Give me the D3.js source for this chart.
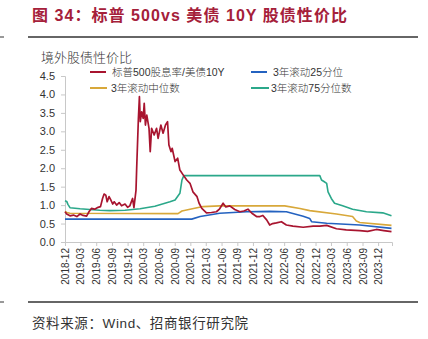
<!DOCTYPE html>
<html><head><meta charset="utf-8">
<script src="https://cdn.jsdelivr.net/npm/d3@7"></script>
<style>
body{margin:0;background:#fff;}
svg{display:block;font-family:"Liberation Sans",Arial,"Noto Sans CJK SC",sans-serif;}
</style></head><body>
<svg id="c" width="428" height="339"></svg>
<script>
// ---- data ----
const redDates = ["2018-12-01","2018-12-11","2018-12-30","2019-01-19","2019-02-08","2019-02-27","2019-03-16","2019-04-06","2019-04-20","2019-05-04","2019-05-23","2019-06-12","2019-06-26","2019-07-08","2019-07-17","2019-07-27","2019-08-04","2019-08-15","2019-08-25","2019-09-05","2019-09-14","2019-09-28","2019-10-13","2019-10-27","2019-11-16","2019-12-01","2019-12-14","2019-12-30","2020-01-07","2020-01-19","2020-01-23","2020-02-02","2020-02-08","2020-02-13","2020-02-21","2020-03-01","2020-03-07","2020-03-14","2020-03-22","2020-04-04","2020-04-11","2020-04-19","2020-05-04","2020-05-18","2020-05-27","2020-06-12","2020-06-25","2020-07-09","2020-07-21","2020-07-29","2020-08-10","2020-08-17","2020-09-03","2020-09-18","2020-10-01","2020-10-20","2020-11-10","2020-11-29","2020-12-16","2021-01-09","2021-01-21","2021-02-06","2021-03-05","2021-04-03","2021-05-02","2021-05-21","2021-06-10","2021-06-26","2021-07-19","2021-08-17","2021-09-16","2021-10-09","2021-11-02","2021-11-25","2021-12-22","2022-01-11","2022-01-28","2022-02-19","2022-03-09","2022-03-26","2022-04-17","2022-05-16","2022-06-14","2022-07-22","2022-09-20","2022-11-17","2022-12-26","2023-02-04","2023-04-02","2023-05-29","2023-08-16","2023-10-01","2023-11-21","2024-01-03","2024-02-17"];
const redValues = [0.82,0.76,0.71,0.73,0.69,0.76,0.72,0.70,0.82,0.91,0.89,0.94,0.96,1.18,1.30,1.27,1.09,1.23,1.14,1.03,1.09,1.00,1.07,0.98,1.03,0.94,0.98,1.18,0.93,1.40,2.00,3.35,3.94,3.26,3.53,3.35,3.76,3.17,3.44,3.08,2.45,3.08,2.90,3.08,2.81,3.17,2.95,3.17,3.26,2.63,2.45,2.54,2.18,2.27,1.95,1.82,1.68,1.59,1.36,1.23,1.05,0.91,0.79,0.80,0.82,0.90,1.05,0.95,0.98,0.88,0.82,0.84,0.89,0.78,0.69,0.69,0.72,0.60,0.46,0.50,0.52,0.55,0.46,0.43,0.40,0.43,0.43,0.45,0.36,0.33,0.31,0.29,0.34,0.31,0.28];

const p25Dates = ["2018-12-01","2020-12-09","2021-01-27","2021-05-21","2021-10-25","2022-03-09","2022-06-14","2022-09-20","2022-10-28","2022-11-08","2023-02-04","2023-08-16","2024-02-17"];
const p25Values = [0.62,0.62,0.69,0.78,0.82,0.83,0.82,0.70,0.64,0.55,0.51,0.46,0.37];

const p50Dates = ["2018-12-01","2018-12-12","2018-12-30","2020-09-20","2020-10-13","2020-11-29","2021-02-13","2021-05-21","2022-06-04","2022-09-01","2022-10-28","2023-04-02","2023-07-05","2023-07-27","2023-08-16","2024-02-17"];
const p50Values = [0.83,0.80,0.78,0.77,0.84,0.89,0.96,0.98,0.98,0.91,0.85,0.76,0.69,0.57,0.53,0.45];

const p75Dates = ["2018-12-01","2018-12-11","2018-12-18","2018-12-30","2019-02-27","2019-04-24","2019-06-22","2019-08-19","2019-11-16","2020-02-12","2020-05-08","2020-08-04","2020-09-03","2020-10-01","2020-10-13","2020-10-24","2022-12-26","2023-01-05","2023-01-19","2023-02-04","2023-02-12","2023-03-03","2023-03-22","2023-05-08","2023-07-05","2023-09-24","2023-12-28","2024-02-17"];
const p75Values = [1.12,1.10,1.02,0.93,0.90,0.88,0.86,0.85,0.86,0.90,0.97,1.09,1.14,1.32,1.68,1.80,1.80,1.68,1.64,1.59,1.36,1.18,1.05,0.98,0.89,0.82,0.79,0.71];

const seriesNames = ["标普500股息率/美债10Y","3年滚动25分位","3年滚动中位数","3年滚动75分位数"];
const seriesColors = ["#a8142f","#2462c0","#d8a83a","#2ba88a"];
const yTicks = [0,0.5,1,1.5,2,2.5,3,3.5,4,4.5];
const xTickLabels = ["2018-12","2019-03","2019-06","2019-09","2019-12","2020-03","2020-06","2020-09","2020-12","2021-03","2021-06","2021-09","2021-12","2022-03","2022-06","2022-09","2022-12","2023-03","2023-06","2023-09","2023-12"];
const titleText = "图 34：标普 500vs 美债 10Y 股债性价比";
const yTitle = "境外股债性价比";
const sourceText = "资料来源：Wind、招商银行研究院";

// ---- drawing ----
const svg = d3.select("#c");
const parse = d3.timeParse("%Y-%m-%d");
const pm = d3.timeParse("%Y-%m");
const x = d3.scaleTime().domain([parse("2018-12-01"), parse("2024-02-20")]).range([65, 392]);
const y = d3.scaleLinear().domain([0, 4.5]).range([242, 76]);

// title
svg.append("text").attr("x",32).attr("y",21).attr("fill","#a5203a")
  .attr("font-size",16).attr("font-weight","bold")
  .attr("textLength",315).attr("lengthAdjust","spacing").text(titleText);
// rules
svg.append("line").attr("x1",28).attr("x2",418).attr("y1",37).attr("y2",37).attr("stroke","#333").attr("stroke-width",1.3);
svg.append("line").attr("x1",0).attr("x2",4).attr("y1",37).attr("y2",37).attr("stroke","#333").attr("stroke-width",1);
svg.append("line").attr("x1",28).attr("x2",418).attr("y1",302).attr("y2",302).attr("stroke","#333").attr("stroke-width",1.3);
svg.append("line").attr("x1",0).attr("x2",4).attr("y1",302).attr("y2",302).attr("stroke","#333").attr("stroke-width",1);
// source
svg.append("text").attr("x",32).attr("y",328).attr("fill","#333").attr("font-size",13.5)
  .attr("textLength",216).attr("lengthAdjust","spacing").text(sourceText);
// y title
svg.append("text").attr("x",41).attr("y",62).attr("fill","#333").attr("font-size",13).attr("font-weight",300).text(yTitle);

// axes
const yAxis = d3.axisLeft(y).tickValues(yTicks).tickFormat(d3.format(".1f")).tickSize(4).tickPadding(6);
const gy = svg.append("g").attr("transform","translate(65,0)").call(yAxis);
gy.selectAll("text").attr("font-size",11).attr("fill","#333");
gy.selectAll("line,path").attr("stroke","#c8c8c8");

const xAxis = d3.axisBottom(x).tickValues(xTickLabels.map(pm)).tickFormat(d3.timeFormat("%Y-%m")).tickSize(4).tickPadding(4);
const gx = svg.append("g").attr("transform","translate(0,242)").call(xAxis);
gx.selectAll("line,path").attr("stroke","#c8c8c8");
gx.selectAll("text").attr("font-size",10).attr("fill","#333")
  .attr("transform","rotate(-90)").attr("text-anchor","end")
  .attr("x",-6).attr("y",0).attr("dy","0.35em");

// lines
const line = d3.line().x(d=>x(d[0])).y(d=>y(d[1]));
const mk = (ds,vs)=>ds.map((d,i)=>[parse(d),vs[i]]);
const all = [mk(redDates,redValues), mk(p25Dates,p25Values), mk(p50Dates,p50Values), mk(p75Dates,p75Values)];
[1,2,3,0].forEach(i=>{
  svg.append("path").datum(all[i]).attr("fill","none").attr("stroke",seriesColors[i])
    .attr("stroke-width",i===0?1.7:1.6).attr("stroke-linejoin","round").attr("d",line);
});

// legend
const leg = [
  {i:0,x1:90,x2:106,tx:112,y:72},
  {i:1,x1:251,x2:267,tx:273,y:72},
  {i:2,x1:90,x2:107,tx:111,y:88},
  {i:3,x1:251,x2:269,tx:271,y:88}
];
leg.forEach(l=>{
  svg.append("line").attr("x1",l.x1).attr("x2",l.x2).attr("y1",l.y).attr("y2",l.y)
    .attr("stroke",seriesColors[l.i]).attr("stroke-width",2);
  svg.append("text").attr("x",l.tx).attr("y",l.y+4).attr("font-size",10.5).attr("font-weight",300).attr("fill","#333").text(seriesNames[l.i]);
});
</script></body></html>
